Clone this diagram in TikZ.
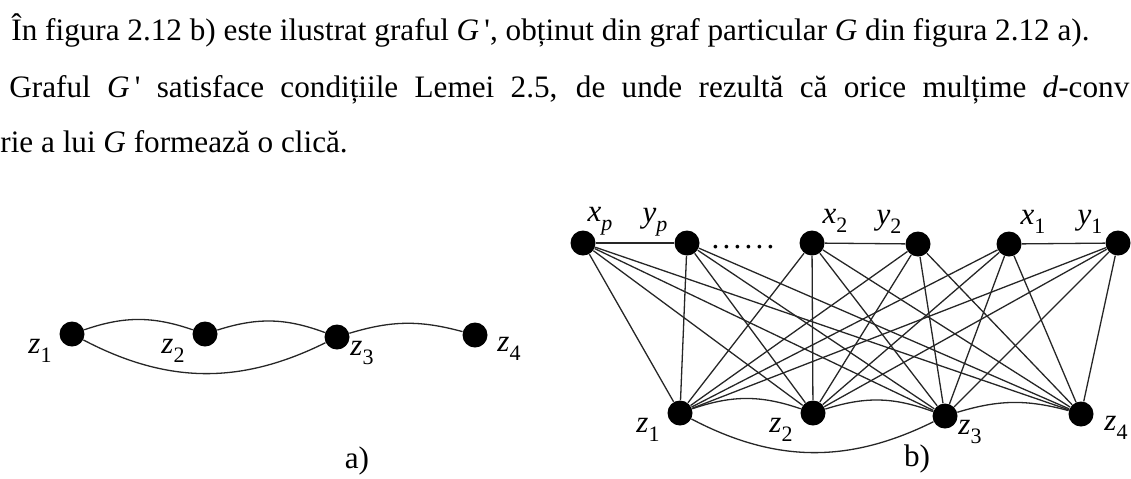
\documentclass[tikz,border=0pt]{standalone}
\usepackage{fontspec}
\setmainfont{Liberation Serif}

% vertex label: italic letter with lowered index
\newcommand{\vlab}[2]{{\fontsize{15.5}{15.5}\selectfont\textit{#1}\raisebox{-4.5pt}{\fontsize{11}{11}\selectfont #2}}}

\tikzset{
  vtx/.style={circle, fill=black, inner sep=0pt, minimum size=12.5pt},
  edg/.style={line width=0.65pt, black!85},
  txt/.style={anchor=base west, inner sep=0pt, font=\fontsize{15.6}{18}\selectfont},
  figcap/.style={inner sep=0pt, font=\fontsize{15.6}{18}\selectfont},
  lab/.style={inner sep=0pt},
}

\begin{document}
\begin{tikzpicture}[x=0.5pt, y=-0.5pt]
    \useasboundingbox (0,0) rectangle (1131,478);

    % Text lines above the figure
    \node[txt] (line1) at (11,40) {În figura 2.12 b) este ilustrat graful \textit{G}\,\textquotesingle, obținut din graf particular \textit{G} din figura 2.12 a).};
    \node[txt] (line2) at (9,97) {\makebox[560pt][s]{Graful \textit{G}\,\textquotesingle{} satisface condițiile Lemei 2.5, de unde rezultă că orice mulțime \textit{d}-conv}};
    \node[txt] (line3) at (0,152) {rie a lui \textit{G} formează o clică.};

    % Graph G (a)
    \node[vtx] (za1) at (72,334) {};
    \node[vtx] (za2) at (205,334) {};
    \node[vtx] (za3) at (337,337) {};
    \node[vtx] (za4) at (475,335) {};
    \node[lab] (la1) at (40,351) {\vlab{z}{1}};
    \node[lab] (la2) at (173,351) {\vlab{z}{2}};
    \node[lab] (la3) at (362,353) {\vlab{z}{3}};
    \node[lab] (la4) at (509,349) {\vlab{z}{4}};
    \draw[edg] (za1) to[bend left=19] (za2);
    \draw[edg] (za2) to[bend left=19] (za3);
    \draw[edg] (za3) to[bend left=16] (za4);
    \draw[edg] (za1) to[bend right=27] (za3);
    \node[figcap] (capa) at (357,461) {a)};

    % Graph G' (b): bottom row
    \node[vtx] (zb1) at (680,413) {};
    \node[vtx] (zb2) at (813,413) {};
    \node[vtx] (zb3) at (945,416) {};
    \node[vtx] (zb4) at (1081,414) {};
    \node[lab] (lb1) at (648,430) {\vlab{z}{1}};
    \node[lab] (lb2) at (781,430) {\vlab{z}{2}};
    \node[lab] (lb3) at (970,432) {\vlab{z}{3}};
    \node[lab] (lb4) at (1116,428) {\vlab{z}{4}};

    % top row
    \node[vtx] (xp) at (583,243) {};
    \node[vtx] (yp) at (687,243) {};
    \node[vtx] (x2) at (812,243) {};
    \node[vtx] (y2) at (918,244) {};
    \node[vtx] (x1) at (1009,244) {};
    \node[vtx] (y1) at (1118,243) {};
    \node[lab] (lxp) at (600,221) {\vlab{x}{\textit{p}}};
    \node[lab] (lyp) at (655,222) {\vlab{y}{\textit{p}}};
    \node[lab] (lx2) at (835,221) {\vlab{x}{2}};
    \node[lab] (ly2) at (889,222) {\vlab{y}{2}};
    \node[lab] (lx1) at (1033,222) {\vlab{x}{1}};
    \node[lab] (ly1) at (1090,222) {\vlab{y}{1}};
    \node[figcap, anchor=base] (dots) at (743,248) {.\kern1.6pt.\kern1.6pt.\kern1.6pt.\kern1.6pt.\kern1.6pt.};

    \draw[edg] (xp) -- (yp);
    \draw[edg] (x2) -- (y2);
    \draw[edg] (x1) -- (y1);
    \foreach \t in {xp,yp,x2,y2,x1,y1}
        \foreach \b in {zb1,zb2,zb3,zb4}
            \draw[edg] (\t) -- (\b);
    \draw[edg] (zb1) to[bend left=19] (zb2);
    \draw[edg] (zb2) to[bend left=19] (zb3);
    \draw[edg] (zb3) to[bend left=16] (zb4);
    \draw[edg] (zb1) to[bend right=27] (zb3);
    \node[figcap] (capb) at (917,459) {b)};
\end{tikzpicture}
\end{document}
